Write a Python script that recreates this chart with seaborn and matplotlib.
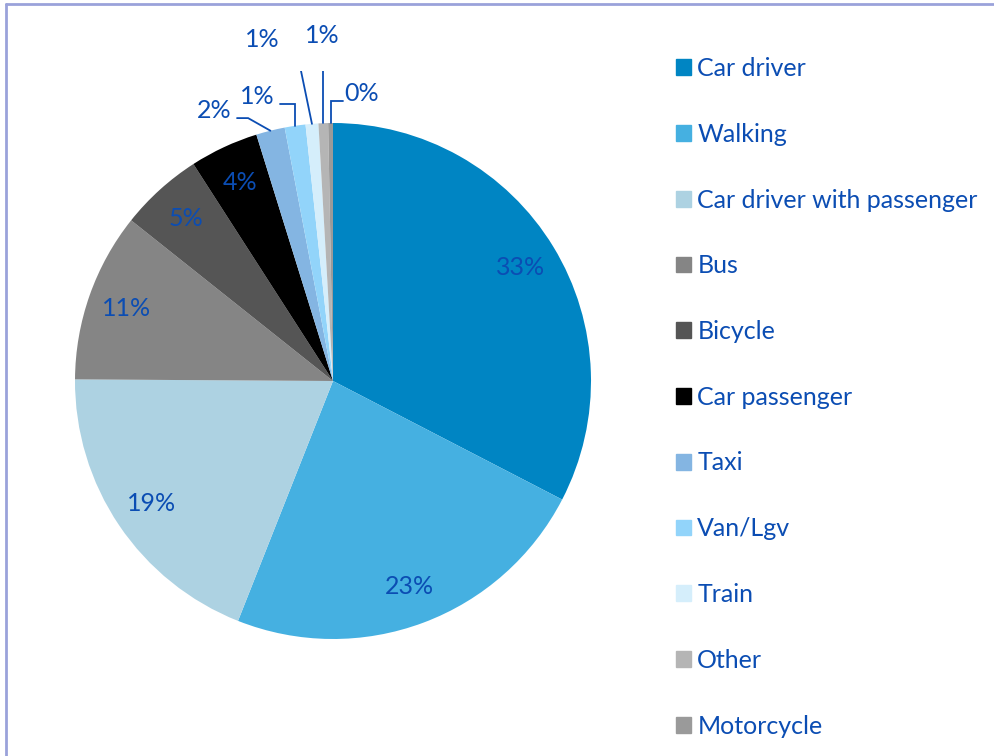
import matplotlib
matplotlib.use("Agg")
import matplotlib.pyplot as plt
import matplotlib.patches as mpatches
import numpy as np
import seaborn as sns

# Travel mode share (percent)
modes = ["Car driver", "Walking", "Car driver with passenger", "Bus", "Bicycle",
         "Car passenger", "Taxi", "Van/Lgv", "Train", "Other", "Motorcycle"]
shares = [32.6, 23.4, 19.1, 10.6, 5.2, 4.3, 1.8, 1.3, 0.8, 0.6, 0.3]
pct_labels = ["33%", "23%", "19%", "11%", "5%", "4%", "2%", "1%", "1%", "1%", "0%"]
colors = ["#0085C3", "#45B0E1", "#ADD2E2", "#858585", "#555555", "#000000",
          "#84B5E2", "#92D4FA", "#D5EEFB", "#B5B5B5", "#9A9A9A"]

sns.set_theme(style="white")
plt.rcParams["font.family"] = ["Lato", "DejaVu Sans"]
txt_color = "#0B4DB3"
fs = 18

fig = plt.figure(figsize=(9.95, 7.56), dpi=100)
W, H = 995, 756
# pie centred at (333, 381) px, radius 258 px
a = 1.2
S = 2 * a * 258
ax = fig.add_axes([(333 - S / 2) / W, 1 - (381 + S / 2) / H, S / W, S / H])

wedges, _ = ax.pie(shares, colors=colors, startangle=90, counterclock=False,
                   radius=1, wedgeprops=dict(linewidth=0))
ax.set_xlim(-a, a)
ax.set_ylim(-a, a)
ax.set_aspect("equal")
ax.axis("off")

# labels inside the bigger slices
for w, lab in list(zip(wedges, pct_labels))[:6]:
    ang = np.deg2rad((w.theta1 + w.theta2) / 2)
    ax.text(0.85 * np.cos(ang), 0.85 * np.sin(ang), lab, ha="center", va="center",
            fontsize=fs, color=txt_color)

# small slices: labels outside with leader lines
# pos = label centre, start = where the leader leaves the label, elbow x (None -> straight down)
outside = {
    6: dict(pos=(-0.461, 1.047), start=(-0.372, 1.019), elbow_x=-0.329),
    7: dict(pos=(-0.293, 1.101), start=(-0.205, 1.074), elbow_x="edge"),
    8: dict(pos=(-0.273, 1.322), start=(-0.186, 1.279), elbow_x=-0.140),
    9: dict(pos=(-0.041, 1.341), start=None, elbow_x=None),
    10: dict(pos=(0.112, 1.116), start=(0.039, 1.085), elbow_x="edge"),
}
for i, o in outside.items():
    w = wedges[i]
    ang = np.deg2rad((w.theta1 + w.theta2) / 2)
    ex, ey = np.cos(ang), np.sin(ang)
    ax.text(o["pos"][0], o["pos"][1], pct_labels[i], ha="center", va="center",
            fontsize=fs, color=txt_color)
    if o["start"] is None:
        ax.plot([ex, ex], [ey, 1.283], color=txt_color, lw=1.3)
    else:
        sx, sy = o["start"]
        kx = ex if o["elbow_x"] == "edge" else o["elbow_x"]
        ax.plot([sx, kx, ex], [sy, sy, ey], color=txt_color, lw=1.3,
                solid_joinstyle="miter")

handles = [mpatches.Patch(color=c, label=m) for c, m in zip(colors, modes)]
leg = fig.legend(handles=handles, loc="upper left", bbox_to_anchor=(666 / W, 1 - 47 / H),
                 frameon=False, fontsize=fs, handlelength=0.6, handleheight=0.6,
                 handletextpad=0.25, labelspacing=1.71, borderaxespad=0)
for t in leg.get_texts():
    t.set_color(txt_color)

# outer frame (only top and left visible)
fig.add_artist(plt.Line2D([6 / W, 6 / W], [0, 1 - 4 / H], color="#9AA2DA", lw=2))
fig.add_artist(plt.Line2D([6 / W, 1], [1 - 4 / H, 1 - 4 / H], color="#9AA2DA", lw=2))

fig.savefig("out.png", dpi=100)
